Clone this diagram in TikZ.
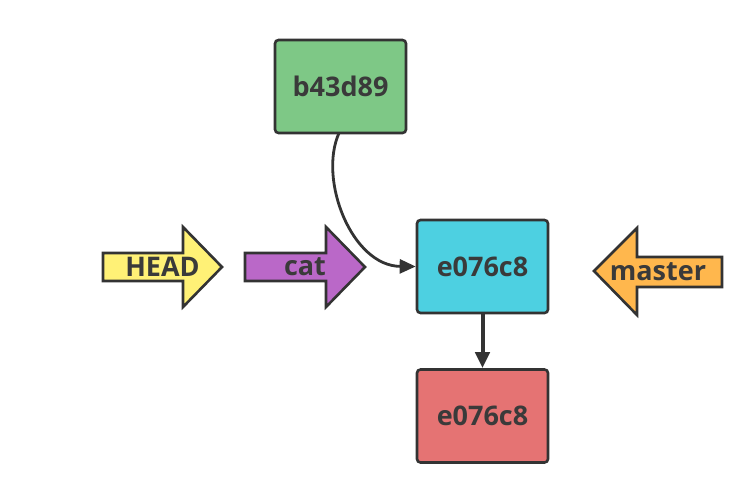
\documentclass[tikz,border=0pt]{standalone}
\usepackage{fontspec}
\setmainfont{Open Sans}
\usetikzlibrary{arrows.meta}
\definecolor{edge}{HTML}{333333}
\definecolor{txt}{HTML}{3A3A3A}
\definecolor{cgreen}{HTML}{7EC886}
\definecolor{ccyan}{HTML}{4DD0E1}
\definecolor{cred}{HTML}{E57373}
\definecolor{cyellow}{HTML}{FFF176}
\definecolor{cpurple}{HTML}{BA68C8}
\definecolor{corange}{HTML}{FFB74D}
\tikzset{
  commit/.style={draw=edge, line width=2.6pt, rounded corners=3.5pt, minimum width=131pt, minimum height=93pt, inner sep=0pt, font=\bfseries\fontsize{27}{30}\selectfont, text=txt},
  blockarrow/.style={draw=edge, line width=2.6pt, line join=miter},
  label/.style={font=\bfseries\fontsize{27}{30}\selectfont, text=txt, inner sep=0pt},
  link/.style={draw=edge, -{Triangle[length=16pt,width=14pt]}}
}
\begin{document}
\begin{tikzpicture}[x=1pt,y=-1pt]
\useasboundingbox (0,0) rectangle (751,477);
% commits
\node[commit, fill=cgreen] (b) at (340.5,86.5) {b43d89};
\node[commit, fill=ccyan] (e1) at (482.5,266.5) {e076c8};
\node[commit, fill=cred] (e2) at (482.5,416) {e076c8};
% HEAD arrow
\draw[blockarrow, fill=cyellow] (103,253) -- (183,253) -- (183,227) -- (222,267) -- (183,307) -- (183,281) -- (103,281) -- cycle;
\node[label] (head) at (162.5,267) {HEAD};
% cat arrow
\draw[blockarrow, fill=cpurple] (245,253) -- (326,253) -- (326,227) -- (365,267) -- (326,307) -- (326,281) -- (245,281) -- cycle;
\node[label] (cat) at (305,267) {cat};
% master arrow
\draw[blockarrow, fill=corange] (722,257) -- (637,257) -- (637,228) -- (594,271) -- (637,315) -- (637,287) -- (722,287) -- cycle;
\node[label] (master) at (658,272) {master};
% connectors
\coordinate (bs) at (339,133);
\draw[link, line width=2.8pt] (bs) .. controls (318,180) and (352,266) .. (e1.west);
\draw[link, line width=4pt] (e1.south) -- (e2.north);
\end{tikzpicture}
\end{document}
